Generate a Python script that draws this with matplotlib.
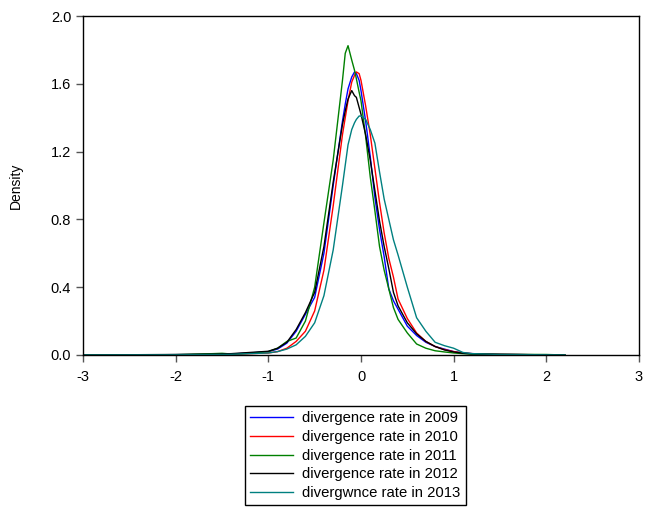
import numpy as np
import matplotlib
matplotlib.use("Agg")
import matplotlib.pyplot as plt

plt.rcParams['font.family'] = ['Liberation Sans', 'DejaVu Sans']
plt.rcParams['axes.unicode_minus'] = False

# common x grid for the density curves
x = [-3, -2, -1.6, -1.5, -1.4, -1.2, -1.0, -0.9, -0.8, -0.7, -0.6, -0.5, -0.4, -0.3, -0.2,
     -0.17, -0.14, -0.1, -0.07, -0.05, -0.02, 0, 0.05, 0.1, 0.15, 0.2, 0.25, 0.3, 0.35, 0.4,
     0.5, 0.6, 0.7, 0.8, 0.9, 1.0, 1.1, 1.2, 1.5, 2.0, 2.2]

d2009 = [0, 0.002, 0.004, 0.005, 0.006, 0.012, 0.02, 0.035, 0.07, 0.14, 0.24, 0.34, 0.60, 1.0, 1.38,
         1.48, 1.57, 1.64, 1.67, 1.66, 1.62, 1.56, 1.38, 1.17, 0.93, 0.74, 0.58, 0.39, 0.32, 0.27,
         0.17, 0.115, 0.075, 0.05, 0.035, 0.02, 0.012, 0.008, 0.004, 0.001, 0]
d2010 = [0, 0.001, 0.003, 0.003, 0.004, 0.008, 0.012, 0.02, 0.04, 0.08, 0.14, 0.26, 0.50, 0.88, 1.30,
         1.40, 1.50, 1.61, 1.65, 1.67, 1.66, 1.62, 1.47, 1.30, 1.10, 0.90, 0.72, 0.57, 0.46, 0.33,
         0.215, 0.13, 0.08, 0.05, 0.032, 0.02, 0.012, 0.008, 0.004, 0.001, 0]
d2011 = [0, 0.002, 0.008, 0.01, 0.006, 0.01, 0.02, 0.04, 0.08, 0.10, 0.20, 0.40, 0.78, 1.15, 1.62,
         1.78, 1.825, 1.74, 1.68, 1.63, 1.55, 1.50, 1.29, 1.05, 0.85, 0.64, 0.50, 0.39, 0.28, 0.21,
         0.13, 0.065, 0.04, 0.025, 0.018, 0.012, 0.008, 0.005, 0.004, 0.003, 0]
d2012 = [0, 0.003, 0.005, 0.006, 0.008, 0.015, 0.022, 0.04, 0.075, 0.15, 0.25, 0.37, 0.64, 1.02, 1.36,
         1.44, 1.51, 1.56, 1.53, 1.52, 1.46, 1.42, 1.30, 1.15, 0.97, 0.79, 0.64, 0.51, 0.37, 0.29,
         0.19, 0.125, 0.08, 0.05, 0.03, 0.018, 0.01, 0.007, 0.003, 0.001, 0]
d2013 = [0, 0.001, 0.003, 0.003, 0.004, 0.008, 0.012, 0.02, 0.035, 0.06, 0.11, 0.19, 0.35, 0.62, 1.0,
         1.12, 1.24, 1.33, 1.37, 1.39, 1.41, 1.41, 1.39, 1.33, 1.25, 1.08, 0.92, 0.80, 0.68, 0.59,
         0.40, 0.22, 0.14, 0.075, 0.055, 0.04, 0.015, 0.008, 0.003, 0.001, 0]

labels = ['divergence rate in 2009', 'divergence rate in 2010', 'divergence rate in 2011',
          'divergence rate in 2012', 'divergwnce rate in 2013']
colors = ['#0000FF', '#FF0000', '#008000', '#000000', '#008080']
series = [d2009, d2010, d2011, d2012, d2013]

fig = plt.figure(figsize=(6.45, 5.13), dpi=100)
ax = fig.add_axes([83 / 645, 1 - 355 / 513, 556 / 645, 339 / 513])

for ys, lab, c in zip(series, labels, colors):
    ax.plot(x, ys, color=c, lw=1.0, label=lab)

ax.set_xlim(-3, 3)
ax.set_ylim(0, 2.0)
ax.set_xticks([-3, -2, -1, 0, 1, 2, 3])
ax.set_yticks([0.0, 0.4, 0.8, 1.2, 1.6, 2.0])
ax.set_yticklabels(['0.0', '0.4', '0.8', '1.2', '1.6', '2.0'])
ax.tick_params(direction='out', length=5, width=1, labelsize=10.5, color='#555555')
ax.tick_params(axis='x', pad=6)
ax.set_ylabel('Density', fontsize=10, labelpad=20)
for s in ax.spines.values():
    s.set_linewidth(1.0)

leg = ax.legend(loc='upper left', bbox_to_anchor=(245 / 645, 1 - 406 / 513),
                bbox_transform=fig.transFigure, fontsize=10.7, frameon=True,
                fancybox=False, edgecolor='black', framealpha=1,
                handlelength=2.9, handletextpad=0.6, labelspacing=0.32,
                borderaxespad=0, borderpad=0.35)
leg.get_frame().set_linewidth(1.0)

plt.savefig('out.png', dpi=100)
